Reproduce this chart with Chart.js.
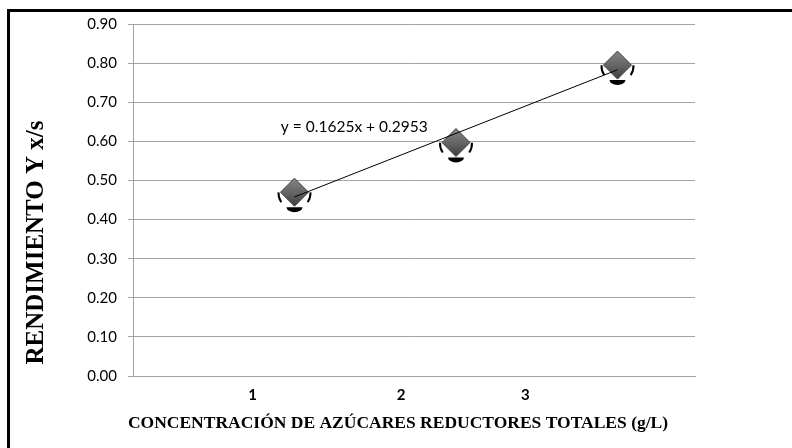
<!DOCTYPE html>
<html><head><meta charset="utf-8">
<script src="https://cdn.jsdelivr.net/npm/chart.js@4.4.1/dist/chart.umd.min.js"></script>
<style>html,body{margin:0;padding:0;background:#fff}#wrap{width:792px;height:448px}</style>
</head><body><div id="wrap"><canvas id="c" width="792" height="448"></canvas></div>
<script>
// ---- data ----
const categories = ["1", "2", "3"];
const concentration = [1, 2, 3];
const yieldValues = [0.47, 0.597, 0.795];
const yTickValues = [0, 0.1, 0.2, 0.3, 0.4, 0.5, 0.6, 0.7, 0.8, 0.9];
const trendSlope = 0.1625;
const trendIntercept = 0.2953;
const equationText = "y = 0.1625x + 0.2953";
const yTitle = "RENDIMIENTO Y x/s";
const xTitle = "CONCENTRACIÓN DE AZÚCARES REDUCTORES TOTALES (g/L)";

// ---- layout constants ----
const xLabelAt = [0.74, 1.66, 2.43];
const equationAt = {x: 1.37, y: 0.637};
const GRID = '#a3a3a3';
const R = 14;

const points = concentration.map((x, i) => ({x: x, y: yieldValues[i]}));
const trend = [concentration[0], concentration[concentration.length - 1]]
  .map(x => ({x: x, y: trendSlope * x + trendIntercept}));

const decor = {
  id: 'decor',
  beforeDraw(chart) {
    const c = chart.ctx;
    c.save();
    c.fillStyle = '#fff';
    c.fillRect(0, 0, chart.width, chart.height);
    c.restore();
  },
  afterDatasetsDraw(chart) {
    const c = chart.ctx;
    const meta = chart.getDatasetMeta(1);
    c.save();
    meta.data.forEach(el => {
      const cx = el.x, cy = el.y;
      c.strokeStyle = '#000';
      c.lineWidth = 2;
      c.beginPath();
      c.arc(cx, cy + 1, R + 2, Math.PI - 0.6, Math.PI + 0.05);
      c.stroke();
      c.beginPath();
      c.arc(cx, cy + 1, R + 2, -0.05, 0.6);
      c.stroke();
      c.fillStyle = '#000';
      c.beginPath();
      c.ellipse(cx, cy + 15, 8, 5, 0, 0, Math.PI);
      c.closePath();
      c.fill();
    });
    // equation
    const xs = chart.scales.x, ys = chart.scales.y;
    c.fillStyle = '#000';
    c.font = '15.5px Lato';
    c.textAlign = 'center';
    c.textBaseline = 'middle';
    c.fillText(equationText, xs.getPixelForValue(equationAt.x), ys.getPixelForValue(equationAt.y));
    c.restore();
  },
  afterDraw(chart) {
    const c = chart.ctx;
    c.save();
    // frame
    c.strokeStyle = '#000';
    c.lineWidth = 3;
    c.beginPath();
    c.moveTo(8.5, 448);
    c.lineTo(8.5, 10.5);
    c.lineTo(792, 10.5);
    c.stroke();
    // axis titles
    c.fillStyle = '#000';
    c.font = 'bold 17.5px "Liberation Serif"';
    c.textAlign = 'center';
    c.textBaseline = 'alphabetic';
    c.fillText(xTitle, 398, 428);
    c.translate(42.5, 242.5);
    c.rotate(-Math.PI / 2);
    c.font = 'bold 25px "Liberation Serif"';
    c.fillText(yTitle, 0, 0);
    c.restore();
  }
};

new Chart(document.getElementById('c'), {
  type: 'scatter',
  data: {
    datasets: [
      {
        type: 'line',
        data: trend,
        borderColor: '#000',
        borderWidth: 1,
        pointRadius: 0,
        fill: false,
        order: 0
      },
      {
        data: points,
        pointStyle: 'rectRot',
        pointRadius: R,
        pointHoverRadius: R,
        borderColor: '#3f3f3f',
        borderWidth: 1,
        backgroundColor: (ctx) => {
          const chart = ctx.chart;
          if (!ctx.raw || !chart.scales || !chart.scales.y) return '#666';
          const py = chart.scales.y.getPixelForValue(ctx.raw.y);
          if (!isFinite(py)) return '#666';
          const g = chart.ctx.createLinearGradient(0, py - R, 0, py + R);
          g.addColorStop(0, '#858585');
          g.addColorStop(0.5, '#666666');
          g.addColorStop(1, '#3e3e3e');
          return g;
        },
        order: 1
      }
    ]
  },
  options: {
    responsive: false,
    animation: false,
    devicePixelRatio: 1,
    layout: {padding: {left: 0, right: 97, top: 24, bottom: 0}},
    plugins: {legend: {display: false}, tooltip: {enabled: false}, title: {display: false}},
    scales: {
      x: {
        type: 'linear',
        min: 0,
        max: 3.48,
        afterBuildTicks: (s) => { s.ticks = xLabelAt.map(v => ({value: v})); },
        afterFit: (s) => { s.height = 72; },
        ticks: {
          callback: (v, i) => categories[i],
          font: {family: 'Lato', weight: 'bold', size: 15},
          color: '#000',
          padding: 10,
          maxRotation: 0,
          autoSkip: false
        },
        grid: {display: false, drawTicks: false},
        border: {display: true, color: GRID, width: 1}
      },
      y: {
        min: 0,
        max: 0.9,
        afterBuildTicks: (s) => { s.ticks = yTickValues.map(v => ({value: v})); },
        afterFit: (s) => { s.width = 133; },
        ticks: {
          callback: (v) => Number(v).toFixed(2),
          font: {family: 'Lato', size: 15},
          color: '#000',
          padding: 11
        },
        grid: {color: GRID, tickLength: 5, lineWidth: 1},
        border: {display: true, color: GRID, width: 1}
      }
    }
  },
  plugins: [decor]
});
</script>
</body></html>
